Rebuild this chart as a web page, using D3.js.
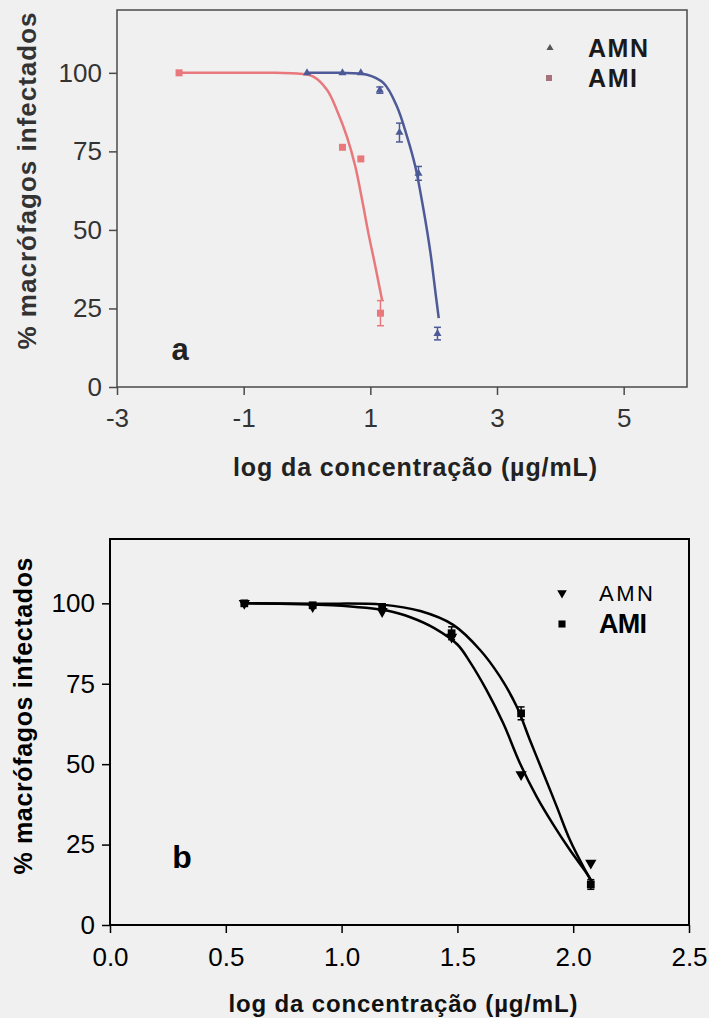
<!DOCTYPE html>
<html>
<head>
<meta charset="utf-8">
<script src="https://cdn.jsdelivr.net/npm/d3@7"></script>
<style>
  body { margin: 0; background: #f0f0f0; }
  svg { display: block; }
  text { font-family: "Liberation Sans", Arial, sans-serif; }
</style>
</head>
<body>
<svg id="chart" width="709" height="1018"></svg>
<script>
// ---- panel a data (log conc vs % infected) ----
const aAmnX = [0, 0.56, 0.85, 1.15, 1.46, 1.76, 2.06];
const aAmnY = [100, 100, 100, 94.5, 81, 68, 17];
const aAmnErr = [0, 0, 0, 1, 3, 2.2, 2];
const aAmiX = [-2.02, 0.56, 0.85, 1.16];
const aAmiY = [100, 76.3, 72.6, 23.5];
const aAmiErr = [0, 0, 0, 4];

// fitted curves
const aAmnCurveX = [0, 0.5, 0.95, 1.21, 1.42, 1.58, 1.71, 1.84, 1.95, 2.03, 2.08];
const aAmnCurveY = [100, 100, 99.4, 96.7, 89.3, 79.7, 70.2, 56.4, 42.6, 29.8, 21.9];
const aAmiCurveX = [-2.02, -0.5, -0.15, 0.1, 0.315, 0.47, 0.63, 0.763, 0.87, 0.97, 1.08, 1.185];
const aAmiCurveY = [100, 100, 99.8, 98.8, 94.6, 88.2, 79.7, 70.2, 59.6, 48.9, 38.3, 27.7];

const aXTicks = [-3, -1, 1, 3, 5];
const yTicks = [0, 25, 50, 75, 100];

// ---- panel b data ----
const bX = [0.58, 0.875, 1.175, 1.475, 1.775, 2.076];
const bAmnY = [100, 99, 97.5, 89.5, 46.8, 19.3];
const bAmiY = [100, 99.4, 98.9, 90.7, 65.8, 12.6];
const bAmiErr = [0.5, 0.5, 0.6, 2, 2, 1.5];

const bAmiCurveX = [0.575, 0.9, 1.175, 1.34, 1.482, 1.598, 1.684, 1.756, 1.813, 1.871, 1.929, 1.986, 2.044, 2.08];
const bAmiCurveY = [100, 99.9, 99.6, 97.6, 93.3, 85.5, 77.2, 67.9, 57.5, 47.2, 36.8, 26.4, 18.1, 13.5];
const bAmnCurveX = [0.575, 0.96, 1.2, 1.3, 1.4, 1.5, 1.554, 1.626, 1.698, 1.77, 1.842, 1.914, 1.986, 2.058, 2.08];
const bAmnCurveY = [100, 99.4, 97.7, 95.6, 92.3, 87.2, 81.8, 73, 62.7, 50.3, 39.9, 31.2, 23.3, 16.1, 13.5];

const bXTicks = [0, 0.5, 1.0, 1.5, 2.0, 2.5];

const svg = d3.select("#chart");
const zip = (xs, ys) => xs.map((x, i) => [x, ys[i]]);

function drawAxes(g, x, y, opt) {
  // frame
  g.append("rect")
    .attr("x", x.range()[0]).attr("y", y.range()[1])
    .attr("width", x.range()[1] - x.range()[0])
    .attr("height", y.range()[0] - y.range()[1])
    .attr("fill", "none").attr("stroke", opt.frame).attr("stroke-width", opt.frameW);

  const xa = g.append("g")
    .attr("transform", `translate(0,${y.range()[0]})`)
    .call(d3.axisBottom(x).tickValues(opt.xTicks).tickFormat(opt.xFmt)
      .tickSize(8).tickPadding(opt.xPad));
  const ya = g.append("g")
    .attr("transform", `translate(${x.range()[0]},0)`)
    .call(d3.axisLeft(y).tickValues(yTicks).tickSize(8).tickPadding(opt.yPad));

  [xa, ya].forEach(a => {
    a.select(".domain").remove();
    a.selectAll("line").attr("stroke", opt.frame).attr("stroke-width", 1.5);
    a.selectAll("text")
      .attr("fill", opt.tickColor)
      .style("font-size", opt.tickFont + "px");
  });
}

function errBars(g, x, y, xs, ys, es, color) {
  xs.forEach((v, i) => {
    if (!es[i]) return;
    const cx = x(v), y1 = y(ys[i] + es[i]), y2 = y(ys[i] - es[i]);
    g.append("line").attr("x1", cx).attr("x2", cx).attr("y1", y1).attr("y2", y2)
      .attr("stroke", color).attr("stroke-width", 1.5);
    [y1, y2].forEach(yy => g.append("line")
      .attr("x1", cx - 3.5).attr("x2", cx + 3.5).attr("y1", yy).attr("y2", yy)
      .attr("stroke", color).attr("stroke-width", 1.5));
  });
}

function markers(g, x, y, xs, ys, type, size, color, rot) {
  g.selectAll(null).data(zip(xs, ys)).join("path")
    .attr("d", d3.symbol().type(type).size(size))
    .attr("transform", d => `translate(${x(d[0])},${y(d[1])}) rotate(${rot || 0})`)
    .attr("fill", color);
}

function curve(g, x, y, xs, ys, color, w) {
  g.append("path")
    .datum(zip(xs, ys))
    .attr("d", d3.line().x(d => x(d[0])).y(d => y(d[1])).curve(d3.curveCatmullRom.alpha(0.5)))
    .attr("fill", "none").attr("stroke", color).attr("stroke-width", w);
}

const hyphen = v => String(v).replace("\u2212", "-");

// ================= panel a =================
const red = "#e9787c", blue = "#4d5a97";
const xA = d3.scaleLinear().domain([-3, 6]).range([117, 687]);
const yA = d3.scaleLinear().domain([0, 120]).range([387, 10]);
const gA = svg.append("g");
drawAxes(gA, xA, yA, {
  frame: "#4a4a4a", frameW: 1.5, xTicks: aXTicks, xFmt: d => hyphen(d3.format("d")(d)),
  xPad: 14, yPad: 7, tickColor: "#333", tickFont: 26
});
curve(gA, xA, yA, aAmiCurveX, aAmiCurveY, red, 2.5);
curve(gA, xA, yA, aAmnCurveX, aAmnCurveY, blue, 2.5);
errBars(gA, xA, yA, aAmiX, aAmiY, aAmiErr, red);
errBars(gA, xA, yA, aAmnX, aAmnY, aAmnErr, blue);
markers(gA, xA, yA, aAmiX, aAmiY, d3.symbolSquare, 49, red);
markers(gA, xA, yA, aAmnX, aAmnY, d3.symbolTriangle, 28, blue);

gA.append("text").attr("x", 180).attr("y", 360).attr("text-anchor", "middle")
  .style("font-size", "31px").style("font-weight", "bold").attr("fill", "#222").text("a");

// legend a
gA.append("path").attr("d", d3.symbol().type(d3.symbolTriangle).size(22))
  .attr("transform", "translate(550,48)").attr("fill", "#555");
gA.append("path").attr("d", d3.symbol().type(d3.symbolSquare).size(36))
  .attr("transform", "translate(549,78)").attr("fill", "#a6727c");
gA.append("text").attr("x", 588).attr("y", 48).attr("dy", "0.35em")
  .attr("textLength", 60).attr("lengthAdjust", "spacing")
  .style("font-size", "25px").style("font-weight", "bold").attr("fill", "#1a1a1a").text("AMN");
gA.append("text").attr("x", 588).attr("y", 78).attr("dy", "0.35em")
  .attr("textLength", 49).attr("lengthAdjust", "spacing")
  .style("font-size", "25px").style("font-weight", "bold").attr("fill", "#1a1a1a").text("AMI");

// titles a
gA.append("text").attr("x", 415).attr("y", 467).attr("dy", "0.35em").attr("text-anchor", "middle")
  .attr("textLength", 364).attr("lengthAdjust", "spacing")
  .style("font-size", "25px").style("font-weight", "bold").attr("fill", "#222")
  .text("log da concentração (µg/mL)");
gA.append("text").attr("transform", "translate(27,181) rotate(-90)").attr("dy", "0.35em")
  .attr("text-anchor", "middle").attr("textLength", 337).attr("lengthAdjust", "spacing")
  .style("font-size", "26px").style("font-weight", "bold").attr("fill", "#333")
  .text("% macrófagos infectados");

// ================= panel b =================
const xB = d3.scaleLinear().domain([0, 2.5]).range([110, 689]);
const yB = d3.scaleLinear().domain([0, 120]).range([925, 539]);
const gB = svg.append("g");
drawAxes(gB, xB, yB, {
  frame: "#000", frameW: 2, xTicks: bXTicks, xFmt: d3.format(".1f"),
  xPad: 15, yPad: 7, tickColor: "#000", tickFont: 26
});
curve(gB, xB, yB, bAmiCurveX, bAmiCurveY, "#000", 2.5);
curve(gB, xB, yB, bAmnCurveX, bAmnCurveY, "#000", 2.5);
errBars(gB, xB, yB, bX, bAmiY, bAmiErr, "#000");
markers(gB, xB, yB, bX, bAmnY, d3.symbolTriangle, 55, "#000", 180);
markers(gB, xB, yB, bX, bAmiY, d3.symbolSquare, 60, "#000");

gB.append("text").attr("x", 182).attr("y", 868).attr("text-anchor", "middle")
  .style("font-size", "32px").style("font-weight", "bold").attr("fill", "#000").text("b");

// legend b
gB.append("path").attr("d", d3.symbol().type(d3.symbolTriangle).size(40))
  .attr("transform", "translate(562,593) rotate(180)").attr("fill", "#000");
gB.append("path").attr("d", d3.symbol().type(d3.symbolSquare).size(50))
  .attr("transform", "translate(562,624)").attr("fill", "#000");
gB.append("text").attr("x", 599).attr("y", 593).attr("dy", "0.35em")
  .attr("textLength", 54).attr("lengthAdjust", "spacing")
  .style("font-size", "22px").attr("fill", "#000").text("AMN");
gB.append("text").attr("x", 599).attr("y", 624).attr("dy", "0.35em")
  .attr("textLength", 48).attr("lengthAdjust", "spacing")
  .style("font-size", "27px").style("font-weight", "bold").attr("fill", "#000").text("AMI");

// titles b
gB.append("text").attr("x", 403).attr("y", 1004).attr("dy", "0.35em").attr("text-anchor", "middle")
  .attr("textLength", 349).attr("lengthAdjust", "spacing")
  .style("font-size", "24px").style("font-weight", "bold").attr("fill", "#111")
  .text("log da concentração (µg/mL)");
gB.append("text").attr("transform", "translate(23,716) rotate(-90)").attr("dy", "0.35em")
  .attr("text-anchor", "middle").attr("textLength", 317).attr("lengthAdjust", "spacing")
  .style("font-size", "25px").style("font-weight", "bold").attr("fill", "#000")
  .text("% macrófagos infectados");
</script>
</body>
</html>
